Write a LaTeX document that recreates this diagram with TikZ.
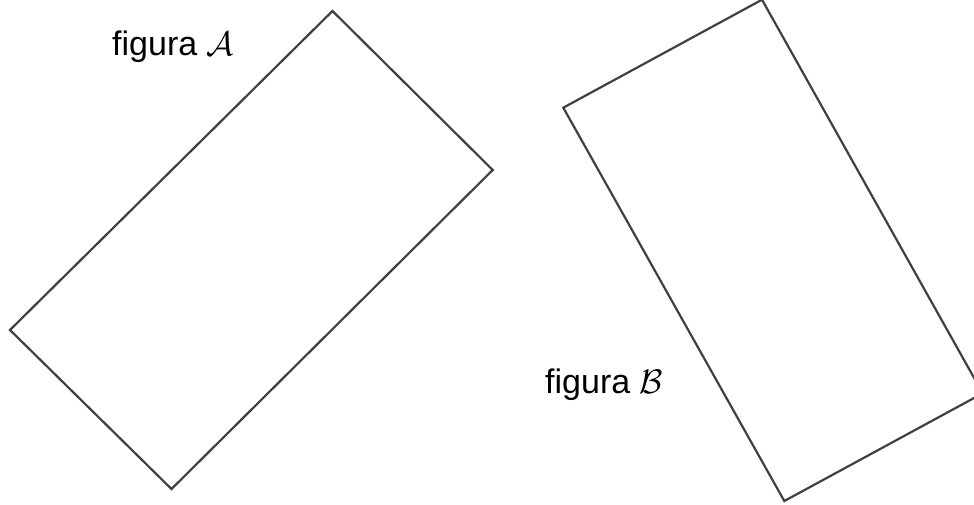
\RequirePackage{fix-cm}
\documentclass[tikz,border=0pt]{standalone}
\usepackage{fontspec}
\setmainfont{Liberation Sans}
\definecolor{edge}{HTML}{404040}
\begin{document}
\begin{tikzpicture}[x=1pt,y=-1pt,lbl/.style={anchor=base west,inner sep=0pt,font=\fontsize{34}{40}\selectfont},fig/.style={draw=edge,line width=2.2pt,line join=miter}]
\useasboundingbox (0,0) rectangle (974,505);
\clip (0,0) rectangle (974,505);
% figura A
\coordinate (at) at (332.5,11);\coordinate (ar) at (492.7,170);
\coordinate (ab) at (171.5,489);\coordinate (al) at (10,330);
\draw[fig] (at)--(ar)--(ab)--(al)--cycle;
\node[lbl] (la) at (112,56) {figura $\mathcal{A}$};
% figura B
\coordinate (bl) at (563.3,107.7);\coordinate (bt) at (762,-0.3);
\coordinate (br) at (982.7,393.3);\coordinate (bb) at (784.3,501);
\draw[fig] (bl)--(bt)--(br)--(bb)--cycle;
\node[lbl] (lb) at (545,393) {figura $\mathcal{B}$};
\end{tikzpicture}
\end{document}
